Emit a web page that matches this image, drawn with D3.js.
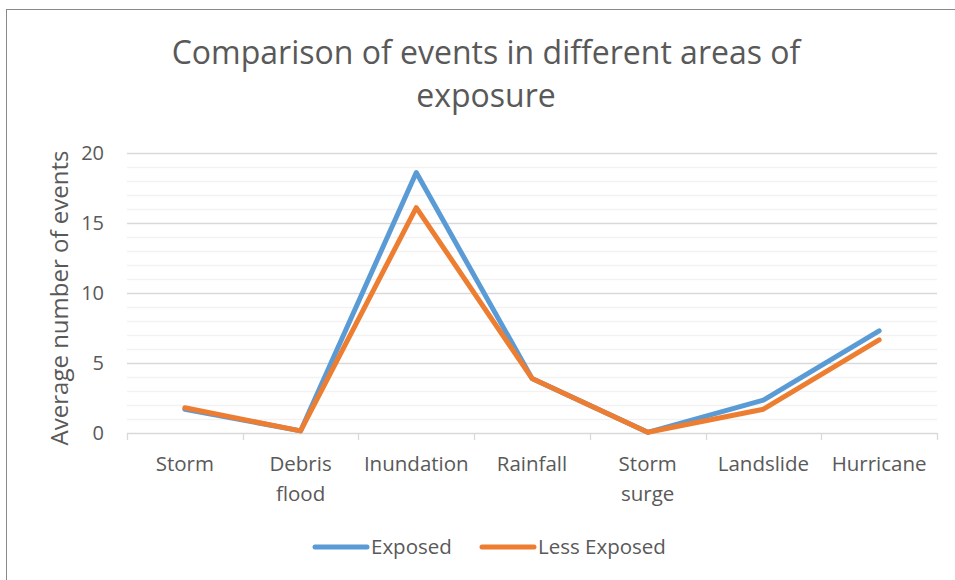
<!DOCTYPE html>
<html><head><meta charset="utf-8">
<script src="https://cdn.jsdelivr.net/npm/d3@7"></script>
<style>body{margin:0;background:#fff;} svg{display:block;}</style>
</head><body>
<svg id="c" width="955" height="580"></svg>
<script>
const categories = ["Storm", "Debris flood", "Inundation", "Rainfall", "Storm surge", "Landslide", "Hurricane"];
const categoryLines = [["Storm"], ["Debris", "flood"], ["Inundation"], ["Rainfall"], ["Storm", "surge"], ["Landslide"], ["Hurricane"]];
const exposed = [1.7, 0.15, 18.6, 3.9, 0.05, 2.35, 7.3];
const lessExposed = [1.8, 0.15, 16.1, 3.9, 0.05, 1.7, 6.65];
const yTicks = [0, 5, 10, 15, 20];
const seriesNames = ["Exposed", "Less Exposed"];
const colors = ["#5B9BD5", "#ED7D31"];

const svg = d3.select("#c");
const font = "'Open Sans', sans-serif";
const textCol = "#595959";

svg.append("rect").attr("x", 6.5).attr("y", 9.5).attr("width", 960).attr("height", 600)
  .attr("fill", "#fff").attr("stroke", "#898989").attr("stroke-width", 1);

const L = 127, R = 937, T = 153, B = 433;
const x = d3.scaleBand().domain(categories).range([L, R]);
const y = d3.scaleLinear().domain([0, 20]).range([B, T]);

// minor gridlines
svg.append("g").selectAll("line").data(d3.range(0, 21, 1).filter(v => v % 5 !== 0)).join("line")
  .attr("x1", L).attr("x2", R).attr("y1", d => y(d) + 0.5).attr("y2", d => y(d) + 0.5)
  .attr("stroke", "#f2f2f2").attr("stroke-width", 1.3);
// major gridlines
svg.append("g").selectAll("line").data(yTicks.filter(v => v > 0)).join("line")
  .attr("x1", L).attr("x2", R).attr("y1", d => y(d) + 0.5).attr("y2", d => y(d) + 0.5)
  .attr("stroke", "#d9d9d9").attr("stroke-width", 1.3);

// y axis labels
const yAxis = d3.axisLeft(y).tickValues(yTicks).tickSize(0).tickPadding(0);
const gy = svg.append("g").attr("transform", `translate(${L - 23},0)`).call(yAxis);
gy.select(".domain").remove();
gy.selectAll("text").attr("font-family", font).attr("font-size", 20).attr("fill", textCol).attr("dy", "0.3em");

// x axis
const xAxis = d3.axisBottom(x).tickSize(0).tickFormat("");
const gx = svg.append("g").attr("transform", `translate(0,${B + 0.5})`).call(xAxis);
gx.select(".domain").attr("stroke", "#d9d9d9").attr("stroke-width", 1.3).attr("d", `M${L},0H${R}`);
const bounds = categories.map(c => x(c)).concat([R]);
svg.append("g").selectAll("line").data(bounds).join("line")
  .attr("x1", d => Math.round(d) + 0.5).attr("x2", d => Math.round(d) + 0.5)
  .attr("y1", B).attr("y2", B + 7).attr("stroke", "#d9d9d9").attr("stroke-width", 1.3);

svg.append("g").selectAll("text").data(categories).join("text")
  .attr("x", d => x(d) + x.bandwidth() / 2).attr("y", 471)
  .attr("text-anchor", "middle").attr("font-family", font).attr("font-size", 20.5).attr("fill", textCol)
  .each(function(d, i) {
    const t = d3.select(this);
    categoryLines[i].forEach((ln, j) => {
      t.append("tspan").attr("x", x(d) + x.bandwidth() / 2).attr("dy", j === 0 ? 0 : 30).text(ln);
    });
  });

// lines
const line = d3.line().x((d, i) => x(categories[i]) + x.bandwidth() / 2).y(d => y(d));
[exposed, lessExposed].forEach((s, i) => {
  svg.append("path").datum(s).attr("d", line).attr("fill", "none")
    .attr("stroke", colors[i]).attr("stroke-width", 5).attr("stroke-linejoin", "round").attr("stroke-linecap", "round");
});

// title
svg.append("text").attr("x", 486).attr("text-anchor", "middle").attr("font-family", font)
  .attr("font-size", 32).attr("fill", textCol)
  .selectAll("tspan").data(["Comparison of events in different areas of", "exposure"]).join("tspan")
  .attr("x", 486).attr("y", (d, i) => 64 + i * 43).text(d => d);

// y label
svg.append("text").attr("transform", "translate(68,298) rotate(-90)").attr("text-anchor", "middle")
  .attr("font-family", font).attr("font-size", 24).attr("fill", textCol).text("Average number of events");

// legend
const legX = [313, 480];
seriesNames.forEach((n, i) => {
  svg.append("line").attr("x1", legX[i] + 2).attr("x2", legX[i] + 54).attr("y1", 547).attr("y2", 547)
    .attr("stroke", colors[i]).attr("stroke-width", 5).attr("stroke-linecap", "round");
  svg.append("text").attr("x", legX[i] + 58).attr("y", 554).attr("font-family", font).attr("font-size", 20.5)
    .attr("fill", textCol).text(n);
});
</script>
</body></html>
